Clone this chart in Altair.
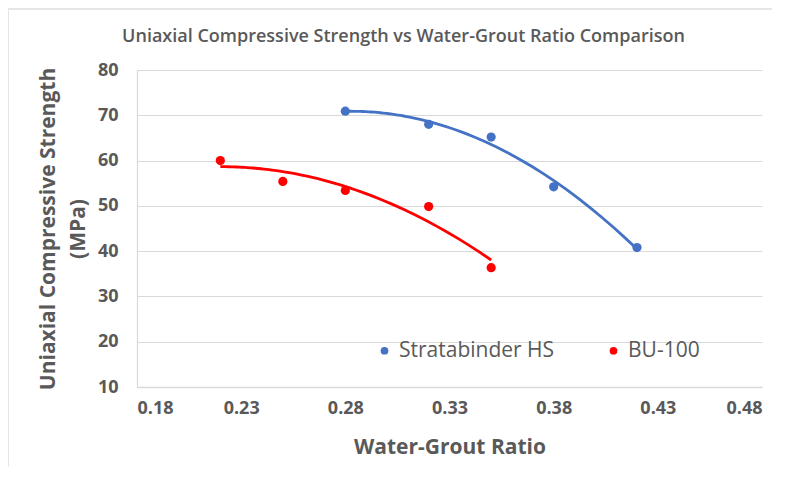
import altair as alt
import pandas as pd

# Data
strat_x = [0.28, 0.32, 0.35, 0.38, 0.42]
strat_y = [70.9, 68.0, 65.2, 54.2, 40.8]
bu_x = [0.22, 0.25, 0.28, 0.32, 0.35]
bu_y = [60.0, 55.4, 53.4, 49.85, 36.35]
series_names = ["Stratabinder HS", "BU-100"]
series_colors = ["#4472C4", "#FF0000"]
x_ticks = [0.18, 0.23, 0.28, 0.33, 0.38, 0.43, 0.48]
y_ticks = [10, 20, 30, 40, 50, 60, 70, 80]

df = pd.DataFrame(
    {
        "ratio": strat_x + bu_x,
        "ucs": strat_y + bu_y,
        "series": [series_names[0]] * len(strat_x) + [series_names[1]] * len(bu_x),
    }
)

FONT = "Open Sans"
GRAY = "#595959"

x_enc = alt.X(
    "ratio:Q",
    scale=alt.Scale(domain=[0.18, 0.48], nice=False, zero=False),
    axis=alt.Axis(
        values=x_ticks,
        format=".2f",
        title="Water-Grout Ratio",
        grid=False,
        ticks=False,
        tickSize=0,
        domainColor="#d9d9d9",
        domainWidth=1.5,
        labelPadding=12,
        titlePadding=19,
    ),
)
y_enc = alt.Y(
    "ucs:Q",
    scale=alt.Scale(domain=[10, 80], nice=False, zero=False),
    axis=alt.Axis(
        values=y_ticks,
        title=["Uniaxial Compressive Strength", "(MPa)"],
        grid=True,
        gridColor="#d9d9d9",
        gridWidth=1.2,
        ticks=False,
        tickSize=0,
        domainColor="#d9d9d9",
        domainWidth=1.2,
        labelPadding=19,
        titlePadding=9,
        titleLineHeight=30,
    ),
)

points = alt.Chart(df).mark_point(filled=True, size=85, opacity=1, shape="circle").encode(
    x=x_enc,
    y=y_enc,
    color=alt.Color(
        "series:N",
        scale=alt.Scale(domain=series_names, range=series_colors),
        sort=series_names,
        legend=alt.Legend(
            title=None,
            orient="none",
            direction="horizontal",
            legendX=237,
            legendY=270,
            symbolType="circle",
            symbolSize=60,
            labelFont=FONT,
            labelFontSize=21,
            labelColor=GRAY,
            labelOffset=4,
            columnPadding=48,
            padding=0,
        ),
    ),
)

lines = (
    alt.Chart(df)
    .transform_regression("ratio", "ucs", method="poly", order=2, groupby=["series"])
    .mark_line(strokeWidth=2.8, clip=True)
    .encode(
        x="ratio:Q",
        y="ucs:Q",
        color=alt.Color(
            "series:N",
            scale=alt.Scale(domain=series_names, range=series_colors),
            sort=series_names,
            legend=None,
        ),
    )
)

border_top = alt.Chart(df).mark_rule(color="#e6e6e6", strokeWidth=1.5).encode(
    x=alt.value(-130), x2=alt.value(640), y=alt.value(-61)
)
border_left = alt.Chart(df).mark_rule(color="#e6e6e6", strokeWidth=1.5).encode(
    x=alt.value(-129), y=alt.value(-61), y2=alt.value(440)
)

chart = (
    alt.layer(border_top, border_left, lines, points)
    .resolve_scale(color="independent")
    .properties(
        width=625,
        height=317,
        autosize=alt.AutoSizeParams(type="none"),
        padding={"left": 129, "top": 62, "right": 10, "bottom": 80},
        title=alt.TitleParams(
            "Uniaxial Compressive Strength vs Water-Grout Ratio Comparison",
            font=FONT,
            fontSize=18,
            fontWeight=600,
            color=GRAY,
            anchor="middle",
            frame="group",
            dx=-46,
            offset=0,
            dy=38,
        ),
    )
    .configure_view(stroke=None)
    .configure_axis(
        labelFont=FONT,
        labelFontSize=18,
        labelFontWeight="bold",
        labelColor=GRAY,
        titleFont=FONT,
        titleFontSize=21,
        titleFontWeight="bold",
        titleColor=GRAY,
    )
)

chart.save("out.html", embed_options={"renderer": "svg", "actions": False})
